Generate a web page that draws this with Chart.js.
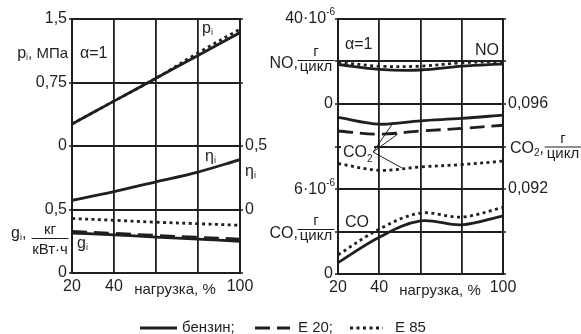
<!DOCTYPE html>
<html>
<head>
<meta charset="utf-8">
<script src="https://cdn.jsdelivr.net/npm/chart.js@4.4.1/dist/chart.umd.min.js"></script>
<style>
  html, body { margin: 0; padding: 0; background: #fff; }
  #wrap { position: relative; width: 581px; height: 334px; }
  canvas { position: absolute; left: 0; top: 0; }
</style>
</head>
<body>
<div id="wrap">
  <canvas id="left" width="581" height="334"></canvas>
  <canvas id="right" width="581" height="334"></canvas>
</div>
<script>
const loads = [20, 40, 60, 80, 100];
const xTickLabels = [20, 40, 100];

// left panel: p_i (MPa), eta_i, g_i (kg/kWh)
const piPetrol = [0.26, 0.53, 0.80, 1.07, 1.34];
const piE85 = [0.26, 0.53, 0.80, 1.10, 1.38];
const etaPetrol = [0.072, 0.141, 0.218, 0.295, 0.392];
const giPetrol = [0.315, 0.300, 0.283, 0.267, 0.249];
const giE20 = [0.328, 0.312, 0.296, 0.281, 0.267];
const giE85 = [0.429, 0.415, 0.400, 0.388, 0.376];

// right panel: NO and CO in 10^-6 g/cycle, CO2 in g/cycle
const noPetrol = [18.6, 16.3, 16.0, 17.8, 18.9];
const noE85 = [19.7, 17.8, 17.8, 19.4, 20.0];
const co2Petrol = [0.09537, 0.09505, 0.09521, 0.09532, 0.09548];
const co2E20 = [0.09473, 0.09458, 0.09473, 0.09485, 0.09500];
const co2E85 = [0.09320, 0.09288, 0.09304, 0.09315, 0.09331];
const coPetrol = [0.80, 2.60, 3.75, 3.47, 4.11];
const coE85 = [1.35, 3.17, 4.30, 4.02, 4.70];

// tick labels on the grid lines, bottom to top
const perfLeftLabels = ['0', '0,5', '0', '0,75', '1,5'];
const etaRightLabels = ['', '0', '0,5', '', ''];
const toxLeftLabels = ['0', '', '', '', '0', '', ''];
const co2RightLabels = ['', '', '0,092', '', '0,096', '', ''];

const legendLabels = ['бензин;', 'E 20;', 'E 85'];
const co2Note = { x: 37, y: 0.09374 };
const co2Pointers = [[46, 0.09501], [49, 0.09459], [51, 0.09299]];

const ink = '#1f1f1f';
const font = "'Liberation Sans', Arial, sans-serif";
const dashes = { solid: [], dashed: [15, 7], dotted: [3, 3.5] };

function line(values, style, axis) {
  return {
    data: loads.map((x, i) => ({ x: x, y: values[i] })),
    yAxisID: axis,
    borderColor: ink,
    borderWidth: 2.8,
    borderDash: dashes[style],
    pointRadius: 0,
    tension: 0.35,
    fill: false,
  };
}

function xAxis(height) {
  return {
    type: 'linear', min: 20, max: 100,
    afterFit: (s) => { s.height = height; },
    ticks: {
      stepSize: 20, autoSkip: false, maxRotation: 0, padding: 4, color: ink,
      font: { family: font, size: 16 },
      callback: (v) => (xTickLabels.includes(v) ? String(v) : ''),
    },
    grid: { color: ink, lineWidth: 1.8, drawTicks: false },
    border: { color: ink, width: 2 },
  };
}

function frame(width, labels, pos, onChart) {
  return {
    position: pos, min: 0, max: labels.length - 1,
    afterFit: (s) => { s.width = width; },
    ticks: {
      stepSize: 1, autoSkip: false, padding: 2, color: ink,
      font: { family: font, size: 16 },
      callback: (v) => labels[v],
    },
    grid: { drawOnChartArea: onChart, color: ink, lineWidth: 2, tickLength: 3, tickWidth: 1.5 },
    border: { color: ink, width: 2 },
  };
}

// text made of pieces: [text, size, dy]
function rich(ctx, parts, x, y, align) {
  let w = 0;
  const widths = parts.map((p) => {
    ctx.font = p[1] + 'px ' + font;
    const pw = ctx.measureText(p[0]).width;
    w += pw;
    return pw;
  });
  let cx = align === 'right' ? x - w : align === 'center' ? x - w / 2 : x;
  ctx.textAlign = 'left';
  parts.forEach((p, i) => {
    ctx.font = p[1] + 'px ' + font;
    ctx.fillText(p[0], cx, y + (p[2] || 0));
    cx += widths[i];
  });
  return w;
}

function frac(ctx, top, bottom, cx, barY, size, w, dTop, dBottom) {
  ctx.font = size + 'px ' + font;
  ctx.textAlign = 'center';
  ctx.fillText(top, cx, barY - dTop);
  ctx.fillText(bottom, cx, barY + dBottom);
  ctx.lineWidth = 1;
  ctx.beginPath();
  ctx.moveTo(cx - w / 2, barY + 0.5);
  ctx.lineTo(cx + w / 2, barY + 0.5);
  ctx.stroke();
  ctx.textAlign = 'left';
}

const leftText = {
  id: 'leftText',
  afterDraw(chart) {
    const { ctx, chartArea: a } = chart;
    ctx.save();
    ctx.fillStyle = ink;
    ctx.strokeStyle = ink;
    ctx.textBaseline = 'alphabetic';
    rich(ctx, [['p', 16], ['i', 9, 2], [', МПа', 15]], a.left - 4, 58, 'right');
    rich(ctx, [['α=1', 16]], a.left + 8, 58, 'left');
    rich(ctx, [['p', 16], ['i', 9, 2]], a.left + 130, 33, 'left');
    rich(ctx, [['η', 16], ['i', 9, 2]], a.left + 133, 161, 'left');
    rich(ctx, [['g', 16], ['i', 9, 2]], a.left + 5, 248, 'left');
    rich(ctx, [['g', 16], ['i', 9, 2], [',', 16]], 11, 238, 'left');
    frac(ctx, 'кг', 'кВт·ч', 50, 238, 15, 37, 4, 16);
    rich(ctx, [['η', 16], ['i', 9, 2]], a.right + 5, 176, 'left');
    rich(ctx, [['нагрузка, %', 15]], a.left + 103, a.bottom + 21, 'center');

    // legend for both panels
    const ly = 328;
    const samples = [[140, 177, 'solid', 182], [255, 290, 'dashed', 298], [350, 383, 'dotted', 395]];
    samples.forEach((sm, i) => {
      ctx.lineWidth = 2.8;
      ctx.setLineDash(dashes[sm[2]]);
      ctx.beginPath();
      ctx.moveTo(sm[0], ly);
      ctx.lineTo(sm[1], ly);
      ctx.stroke();
      ctx.setLineDash([]);
      rich(ctx, [[legendLabels[i], 15]], sm[3], 332, 'left');
    });
    ctx.restore();
  },
};

const rightText = {
  id: 'rightText',
  afterDraw(chart) {
    const { ctx, chartArea: a, scales: s } = chart;
    const u = (v) => s.y.getPixelForValue(v);
    ctx.save();
    ctx.fillStyle = ink;
    ctx.strokeStyle = ink;
    ctx.textBaseline = 'alphabetic';
    rich(ctx, [['40·10', 16], ['-6', 10, -8]], a.left - 3, u(6) + 4, 'right');
    rich(ctx, [['6·10', 16], ['-6', 10, -8]], a.left - 3, u(2) + 5, 'right');
    rich(ctx, [['NO,', 16]], a.left - 40, u(5) + 6, 'right');
    frac(ctx, 'г', 'цикл', a.left - 22, u(5) - 1.5, 15, 37, 4, 11);
    rich(ctx, [['CO,', 16]], a.left - 40, u(1) + 6, 'right');
    frac(ctx, 'г', 'цикл', a.left - 22, u(1) - 2.5, 15, 37, 4, 11);
    rich(ctx, [['CO', 16], ['2', 10, 3], [',', 16]], a.right + 7, u(3) + 6, 'left');
    frac(ctx, 'г', 'цикл', a.right + 60, u(3), 15, 37, 4, 11);

    rich(ctx, [['α=1', 16]], a.left + 7, 49, 'left');
    rich(ctx, [['NO', 16]], a.right - 4, 55, 'right');
    rich(ctx, [['CO', 16]], a.left + 7, 227, 'left');
    rich(ctx, [['нагрузка, %', 15]], a.left + 102, a.bottom + 21, 'center');

    // CO2 label with pointers
    const ox = s.x.getPixelForValue(co2Note.x);
    const oy = s.yc2.getPixelForValue(co2Note.y);
    ctx.fillStyle = '#fff';
    ctx.fillRect(a.left + 3, u(3) - 4, 33, 18);
    ctx.fillStyle = ink;
    rich(ctx, [['CO', 16], ['2', 10, 5]], a.left + 5, u(3) + 10, 'left');
    ctx.lineWidth = 1;
    co2Pointers.forEach((p) => {
      ctx.beginPath();
      ctx.moveTo(ox, oy);
      ctx.lineTo(s.x.getPixelForValue(p[0]), s.yc2.getPixelForValue(p[1]));
      ctx.stroke();
    });
    ctx.restore();
  },
};

const common = {
  responsive: false,
  animation: false,
  devicePixelRatio: 1,
  plugins: { legend: { display: false }, tooltip: { enabled: false } },
};

new Chart(document.getElementById('left'), {
  type: 'line',
  data: {
    datasets: [
      line(piE85, 'dotted', 'yp'),
      line(piPetrol, 'solid', 'yp'),
      line(etaPetrol, 'solid', 'ye'),
      line(giE85, 'dotted', 'yg'),
      line(giE20, 'dashed', 'yg'),
      line(giPetrol, 'solid', 'yg'),
    ],
  },
  options: Object.assign({}, common, {
    layout: { padding: { top: 19, left: 0, right: 0, bottom: 0 } },
    scales: {
      x: xAxis(61),
      y: frame(72, perfLeftLabels, 'left', true),
      y2: frame(341, etaRightLabels, 'right', false),
      yp: { display: false, min: -1.5, max: 1.5 },
      ye: { display: false, min: -0.5, max: 1.5 },
      yg: { display: false, min: 0, max: 2 },
    },
  }),
  plugins: [leftText],
});

new Chart(document.getElementById('right'), {
  type: 'line',
  data: {
    datasets: [
      line(noE85, 'dotted', 'yn'),
      line(noPetrol, 'solid', 'yn'),
      line(co2Petrol, 'solid', 'yc2'),
      line(co2E20, 'dashed', 'yc2'),
      line(co2E85, 'dotted', 'yc2'),
      line(coE85, 'dotted', 'yco'),
      line(coPetrol, 'solid', 'yco'),
    ],
  },
  options: Object.assign({}, common, {
    layout: { padding: { top: 19, left: 0, right: 0, bottom: 0 } },
    scales: {
      x: xAxis(60),
      y: frame(338, toxLeftLabels, 'left', true),
      y2: frame(78, co2RightLabels, 'right', false),
      yn: { display: false, min: -80, max: 40 },
      yc2: { display: false, min: 0.088, max: 0.100 },
      yco: { display: false, min: 0, max: 18 },
    },
  }),
  plugins: [rightText],
});
</script>
</body>
</html>
